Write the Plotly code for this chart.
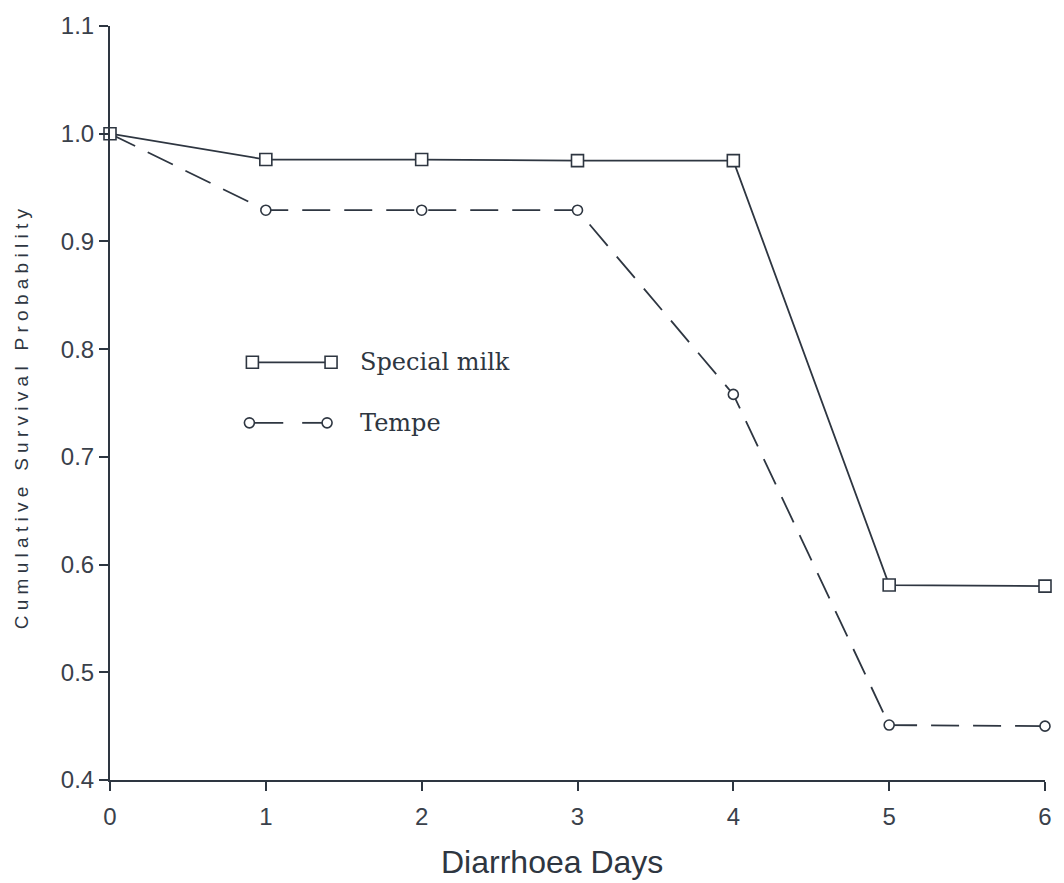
import plotly.graph_objects as go

# Data
days = [0, 1, 2, 3, 4, 5, 6]
special_milk = [1.0, 0.976, 0.976, 0.975, 0.975, 0.581, 0.580]
tempe = [1.0, 0.929, 0.929, 0.929, 0.758, 0.451, 0.450]
x_ticks = [0, 1, 2, 3, 4, 5, 6]
y_ticks = [0.4, 0.5, 0.6, 0.7, 0.8, 0.9, 1.0, 1.1]
series_names = ["Special milk", "Tempe"]
x_title = "Diarrhoea Days"
y_title_words = ["Cumulative", "Survival", "Probability"]

INK = "#2e3641"
W, H = 1064, 883
L, R, T, B = 110, 15, 20, 103

fig = go.Figure()
fig.add_trace(go.Scatter(
    x=days, y=tempe, mode="lines+markers", name=series_names[1],
    line=dict(color=INK, width=1.8, dash="28px,14px"),
    marker=dict(symbol="circle", size=10, color="white",
                line=dict(color=INK, width=1.6)),
    cliponaxis=False, showlegend=False))
fig.add_trace(go.Scatter(
    x=days, y=special_milk, mode="lines+markers", name=series_names[0],
    line=dict(color=INK, width=1.8),
    marker=dict(symbol="square", size=12, color="white",
                line=dict(color=INK, width=1.6)),
    cliponaxis=False, showlegend=False))

pw = W - L - R
ph = H - T - B
def px_x(p):
    return (p - L) / pw
def px_y(p):
    return (H - B - p) / ph

shapes = []
annotations = []
# Custom legend (line with a marker at each end, as in the original)
ly1, ly2 = 359, 420
shapes.append(dict(type="line", xref="paper", yref="paper",
                   x0=px_x(253), x1=px_x(332), y0=px_y(ly1), y1=px_y(ly1),
                   line=dict(color=INK, width=1.8)))
for cx in (253, 332):
    shapes.append(dict(type="rect", xref="paper", yref="paper",
                       xsizemode="pixel", ysizemode="pixel",
                       xanchor=px_x(cx), yanchor=px_y(ly1),
                       x0=-6, x1=6, y0=-6, y1=6,
                       fillcolor="white", line=dict(color=INK, width=1.6)))
shapes.append(dict(type="line", xref="paper", yref="paper",
                   x0=px_x(250), x1=px_x(284), y0=px_y(ly2), y1=px_y(ly2),
                   line=dict(color=INK, width=1.8)))
shapes.append(dict(type="line", xref="paper", yref="paper",
                   x0=px_x(303), x1=px_x(328), y0=px_y(ly2), y1=px_y(ly2),
                   line=dict(color=INK, width=1.8)))
for cx in (250, 328):
    shapes.append(dict(type="circle", xref="paper", yref="paper",
                       xsizemode="pixel", ysizemode="pixel",
                       xanchor=px_x(cx), yanchor=px_y(ly2),
                       x0=-5, x1=5, y0=-5, y1=5,
                       fillcolor="white", line=dict(color=INK, width=1.6)))
annotations.append(dict(text=series_names[0], xref="paper", yref="paper",
                        x=px_x(359), y=px_y(ly1), xanchor="left", yanchor="middle",
                        showarrow=False,
                        font=dict(family="DejaVu Serif", size=24, color=INK)))
annotations.append(dict(text=series_names[1], xref="paper", yref="paper",
                        x=px_x(359), y=px_y(ly2), xanchor="left", yanchor="middle",
                        showarrow=False,
                        font=dict(family="DejaVu Serif", size=24, color=INK)))
# Y axis title (letter-spaced as in the original)
NB = "\u00a0"
y_title = (NB * 3).join(NB.join(list(w)) for w in y_title_words)
annotations.append(dict(text=y_title,
                        xref="paper", yref="paper",
                        x=px_x(21), y=px_y(416), xanchor="center", yanchor="middle",
                        textangle=-90, showarrow=False,
                        font=dict(family="Liberation Sans", size=19, color=INK)))
# X axis title
annotations.append(dict(text=x_title, xref="paper", yref="paper",
                        x=px_x(554), y=px_y(863), xanchor="center", yanchor="middle",
                        showarrow=False,
                        font=dict(family="Liberation Sans", size=32, color=INK)))

fig.update_layout(
    width=W, height=H,
    margin=dict(l=L, r=R, t=T, b=B),
    paper_bgcolor="white", plot_bgcolor="white",
    shapes=shapes, annotations=annotations,
    xaxis=dict(range=[0, 6], tickvals=x_ticks, ticktext=[str(v) for v in x_ticks],
               showgrid=False, zeroline=False, showline=True, linecolor=INK, linewidth=2,
               ticks="outside", ticklen=9, tickwidth=1.5, tickcolor=INK,
               ticklabelstandoff=5,
               tickfont=dict(family="Liberation Sans", size=24, color="#3a414b")),
    yaxis=dict(range=[0.4, 1.1], tickvals=y_ticks, tickformat=".1f",
               showgrid=False, zeroline=False, showline=True, linecolor=INK, linewidth=2,
               ticks="outside", ticklen=9, tickwidth=1.5, tickcolor=INK,
               tickfont=dict(family="Liberation Sans", size=24, color="#3a414b")),
)

fig.write_html("out.html")
